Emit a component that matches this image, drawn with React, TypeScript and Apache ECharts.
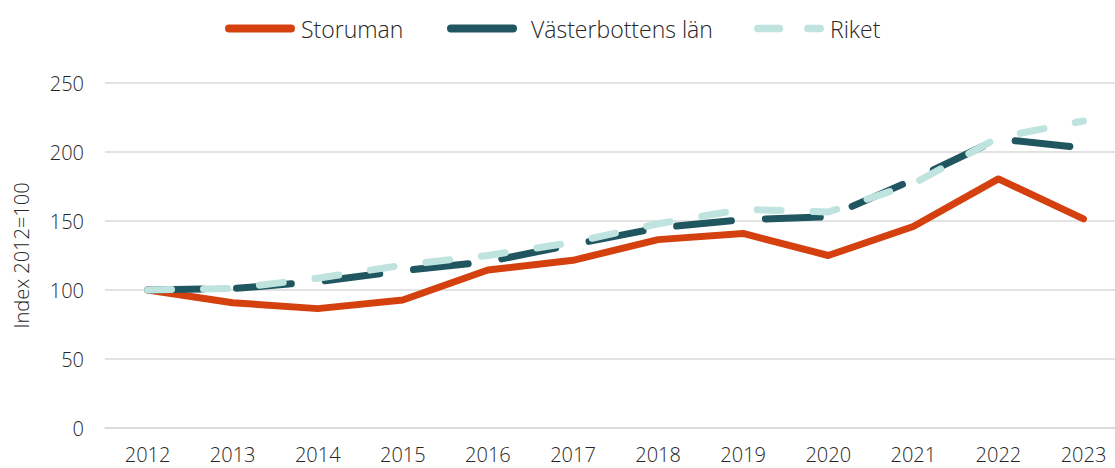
import React, { useEffect, useRef } from "react";
import * as echarts from "echarts";

const years = ["2012", "2013", "2014", "2015", "2016", "2017", "2018", "2019", "2020", "2021", "2022", "2023"];
const storuman = [100, 90.8, 86.5, 92.8, 114.5, 121.5, 136.5, 141, 125, 146, 180.5, 151.5];
const vasterbotten = [100, 101, 106, 114, 120.5, 133, 145, 151, 153, 180, 209.5, 203];
const riket = [100, 101.2, 108.5, 118, 125, 134.5, 148, 158.5, 156.5, 177, 210.5, 222.5];
const yAxisName = "Index 2012=100";

const FONT = "'Open Sans', sans-serif";
const C_STOR = "#D5400F";
const C_VAST = "#1F5660";
const C_RIK = "#BFE4DF";

const pill = "path://M4,0 H66 A4,4 0 0 1 66,8 H4 A4,4 0 0 1 4,0 Z";
const twoPills =
  "path://M4,0 H27 A4,4 0 0 1 27,8 H4 A4,4 0 0 1 4,0 Z M57,0 H70 A4,4 0 0 1 70,8 H57 A4,4 0 0 1 57,0 Z";

function legendItem(name: string, left: number, icon: string, color: string, pad: number) {
  return {
    top: 12,
    left,
    itemWidth: 70,
    itemHeight: 8,
    itemGap: 6,
    icon,
    itemStyle: { color },
    textStyle: { fontSize: 23, color: "#262626", fontFamily: FONT, fontWeight: 300, padding: [0, 0, 0, pad] },
    data: [{ name, icon, itemStyle: { color } }],
  };
}

export default function App() {
  const ref = useRef<HTMLDivElement>(null);
  useEffect(() => {
    document.body.style.margin = "0";
    document.body.style.overflow = "hidden";
    const chart = echarts.init(ref.current!, undefined, { renderer: "svg" });
    chart.setOption({
      animation: false,
      textStyle: { fontFamily: FONT },
      legend: [
        legendItem("Storuman", 220, pill, C_STOR, 1),
        legendItem("Västerbottens län", 442, pill, C_VAST, 9),
        legendItem("Riket", 749, twoPills, C_RIK, 1),
      ],
      grid: { left: 105, right: 0, top: 83, bottom: 40, containLabel: false },
      xAxis: {
        type: "category",
        data: years,
        boundaryGap: true,
        axisLine: { show: true, lineStyle: { color: "#d9d9d9", width: 1.5 } },
        axisTick: { show: false },
        axisLabel: { fontSize: 20, color: "#262626", margin: 16, fontFamily: FONT, fontWeight: 300 },
      },
      yAxis: {
        type: "value",
        min: 0,
        max: 250,
        interval: 50,
        name: yAxisName,
        nameLocation: "middle",
        nameGap: 74,
        nameTextStyle: { fontSize: 20, color: "#262626", fontFamily: FONT, fontWeight: 300 },
        axisLine: { show: false },
        axisTick: { show: false },
        splitLine: { lineStyle: { color: "#d9d9d9", width: 1.5 } },
        axisLabel: { fontSize: 20, color: "#262626", margin: 21, fontFamily: FONT, fontWeight: 300 },
      },
      series: [
        {
          name: "Storuman",
          type: "line",
          data: storuman,
          symbol: "none",
          z: 3,
          lineStyle: { color: C_STOR, width: 7, cap: "round", join: "round" },
          itemStyle: { color: C_STOR },
        },
        {
          name: "Västerbottens län",
          type: "line",
          data: vasterbotten,
          symbol: "none",
          z: 4,
          lineStyle: { color: C_VAST, width: 7, type: [55, 34], cap: "round", join: "round" },
          itemStyle: { color: C_VAST },
        },
        {
          name: "Riket",
          type: "line",
          data: riket,
          symbol: "none",
          z: 5,
          lineStyle: { color: C_RIK, width: 7, type: [24, 32], cap: "round", join: "round" },
          itemStyle: { color: C_RIK },
        },
      ],
    });
    return () => chart.dispose();
  }, []);
  return (
    <div style={{ width: 1115, height: 468, overflow: "hidden", position: "relative" }}>
      <div ref={ref} style={{ width: 1126, height: 468 }} />
    </div>
  );
}
